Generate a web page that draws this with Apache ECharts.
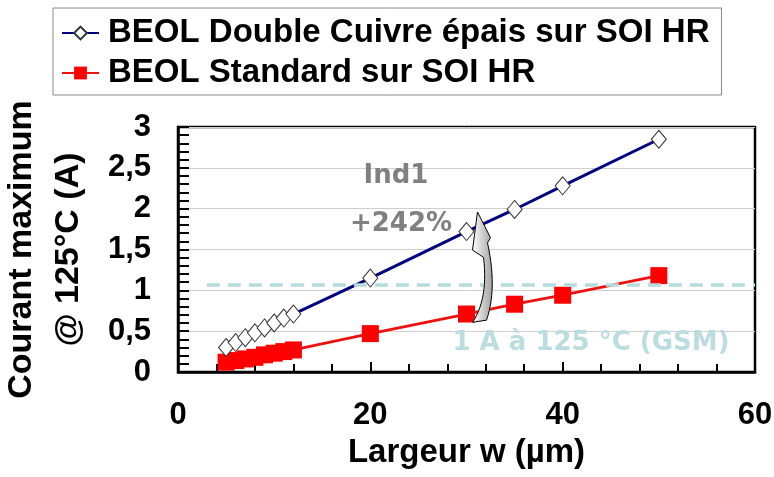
<!DOCTYPE html>
<html><head><meta charset="utf-8">
<script src="https://cdn.jsdelivr.net/npm/echarts@6/dist/echarts.min.js"></script>
<style>html,body{margin:0;padding:0;background:#fff}#c{width:774px;height:477px}</style>
</head><body><div id="c"></div>
<script>
// ---- data ----
const widthsDouble = [5, 6, 7, 8, 9, 10, 11, 12, 20, 30, 35, 40, 50];
const currentDouble = [0.30, 0.36, 0.42, 0.48, 0.54, 0.60, 0.66, 0.71, 1.15, 1.72, 1.99, 2.28, 2.85];
const widthsStandard = [5, 6, 7, 8, 9, 10, 11, 12, 20, 30, 35, 40, 50];
const currentStandard = [0.12, 0.14, 0.16, 0.18, 0.21, 0.23, 0.25, 0.27, 0.47, 0.71, 0.83, 0.94, 1.18];
const seriesNames = ['BEOL Double Cuivre épais sur SOI HR', 'BEOL Standard sur SOI HR'];
const xTickLabels = ['0', '20', '40', '60'];
const yTickLabels = ['0', '0,5', '1', '1,5', '2', '2,5', '3'];
const gsmLimit = [1.07];
const gsmRange = [3, 60];
const arrowAt = [30];
const annotations = ['Ind1', '+242%', '1 A à 125 °C (GSM)'];

const pairs = (xs, ys) => xs.map((x, i) => [x, ys[i]]);
const FONT = '"Liberation Sans", Arial, sans-serif';
const FONT2 = '"DejaVu Sans", Verdana, sans-serif';

const chart = echarts.init(document.getElementById('c'));
chart.setOption({
  animation: false,
  backgroundColor: '#ffffff',
  grid: { left: 178, right: 19, top: 127, bottom: 105, show: true, borderColor: '#000', borderWidth: 2.5, outerBoundsMode: 'none', containLabel: false },
  legend: {
    orient: 'vertical', left: 53, top: 8, padding: [8, 12, 5, 8], itemGap: 6,
    itemWidth: 37, itemHeight: 16, borderColor: '#888', borderWidth: 1,
    textStyle: { fontFamily: FONT, fontWeight: 'bold', fontSize: 33, lineHeight: 34, color: '#000', padding: [0, 0, 0, 4] },
    data: seriesNames
  },
  xAxis: {
    type: 'value', min: 0, max: 60, interval: 20,
    name: 'Largeur w (µm)', nameLocation: 'middle', nameGap: 64,
    nameTextStyle: { fontFamily: FONT, fontWeight: 'bold', fontSize: 33, color: '#000' },
    axisLine: { show: true, lineStyle: { color: '#000', width: 2.5 } },
    axisTick: { show: true, inside: true, length: 10, lineStyle: { color: '#000', width: 2 } },
    minorTick: { show: true, splitNumber: 5, length: 8, lineStyle: { color: '#000', width: 2 } },
    splitLine: { show: false },
    axisLabel: { margin: 28, fontFamily: FONT, fontWeight: 'bold', fontSize: 31, color: '#000',
      formatter: v => xTickLabels[Math.round(v / 20)] }
  },
  yAxis: {
    type: 'value', min: 0, max: 3, interval: 0.5,
    name: 'Courant maximum\n@ 125°C (A)', nameLocation: 'middle', nameGap: 86, nameRotate: 90,
    nameTextStyle: { fontFamily: FONT, fontWeight: 'bold', fontSize: 34, color: '#000', lineHeight: 47 },
    axisLine: { show: true, lineStyle: { color: '#000', width: 2.5 } },
    axisTick: { show: true, inside: true, length: 11, lineStyle: { color: '#000', width: 2 } },
    minorTick: { show: true, splitNumber: 5, length: 11, lineStyle: { color: '#000', width: 2 } },
    splitLine: { show: true, lineStyle: { color: '#cfcfcf', width: 1 } },
    axisLabel: { margin: 27, fontFamily: FONT, fontWeight: 'bold', fontSize: 31, color: '#000',
      formatter: v => yTickLabels[Math.round(v / 0.5)] }
  },
  series: [
    {
      name: seriesNames[1], type: 'line', data: pairs(widthsStandard, currentStandard),
      symbol: 'rect', symbolSize: 17, z: 3,
      lineStyle: { color: '#ee1111', width: 2.8 },
      itemStyle: { color: '#ff0000', borderWidth: 0 },
      markLine: {
        silent: true, symbol: 'none', label: { show: false },
        lineStyle: { color: '#b5dcdc', width: 3.5, type: [13, 8] },
        data: [[{ coord: [gsmRange[0], gsmLimit[0]] }, { coord: [gsmRange[1], gsmLimit[0]] }]]
      }
    },
    {
      name: seriesNames[0], type: 'line', data: pairs(widthsDouble, currentDouble),
      symbol: 'diamond', symbolSize: [15, 18], z: 4,
      lineStyle: { color: '#000080', width: 3 },
      itemStyle: { color: '#ffffff', borderColor: '#333', borderWidth: 1 }
    }
  ]
});

function drawAnnotations() {
  const i = widthsDouble.indexOf(arrowAt[0]);
  const j = widthsStandard.indexOf(arrowAt[0]);
  const B = chart.convertToPixel({ gridIndex: 0 }, [arrowAt[0], currentDouble[i]]);
  const R = chart.convertToPixel({ gridIndex: 0 }, [arrowAt[0], currentStandard[j]]);
  const rx = R[0], ry = R[1];
  const s = (ry - B[1]) / 80;
  const P = (dx, dy) => [rx + dx, ry + dy * s];
  const quad = (a, c, b, n) => {
    const out = [];
    for (let k = 1; k <= n; k++) {
      const t = k / n, u = 1 - t;
      out.push([u * u * a[0] + 2 * u * t * c[0] + t * t * b[0], u * u * a[1] + 2 * u * t * c[1] + t * t * b[1]]);
    }
    return out;
  };
  const pts = [P(6, 8)]
    .concat(quad(P(6, 8), P(22, -15), P(17, -55), 14))
    .concat([P(6, -62), P(11, -99), P(24, -74), P(21, -69)])
    .concat(quad(P(21, -69), P(31, -25), P(20, 6), 14));
  chart.setOption({
    graphic: [
      { type: 'polygon', z: 10, shape: { points: pts },
        style: { fill: { type: 'linear', x: 0, y: 0, x2: 1, y2: 0, colorStops: [{ offset: 0, color: '#ffffff' }, { offset: 1, color: '#a0a0a0' }] },
          stroke: '#000', lineWidth: 1 } },
      { type: 'text', x: 396, y: 176, z: 10, style: { text: annotations[0], fill: '#808080', font: 'bold 26px ' + FONT2, textAlign: 'center', textVerticalAlign: 'middle' } },
      { type: 'text', x: 401, y: 224, z: 10, style: { text: annotations[1], fill: '#808080', font: 'bold 26px ' + FONT2, textAlign: 'center', textVerticalAlign: 'middle' } },
      { type: 'text', x: 591, y: 343, z: 10, style: { text: annotations[2], fill: '#bcdde0', font: 'bold 26px ' + FONT2, textAlign: 'center', textVerticalAlign: 'middle' } }
    ]
  });
}
drawAnnotations();
</script>
</body></html>
